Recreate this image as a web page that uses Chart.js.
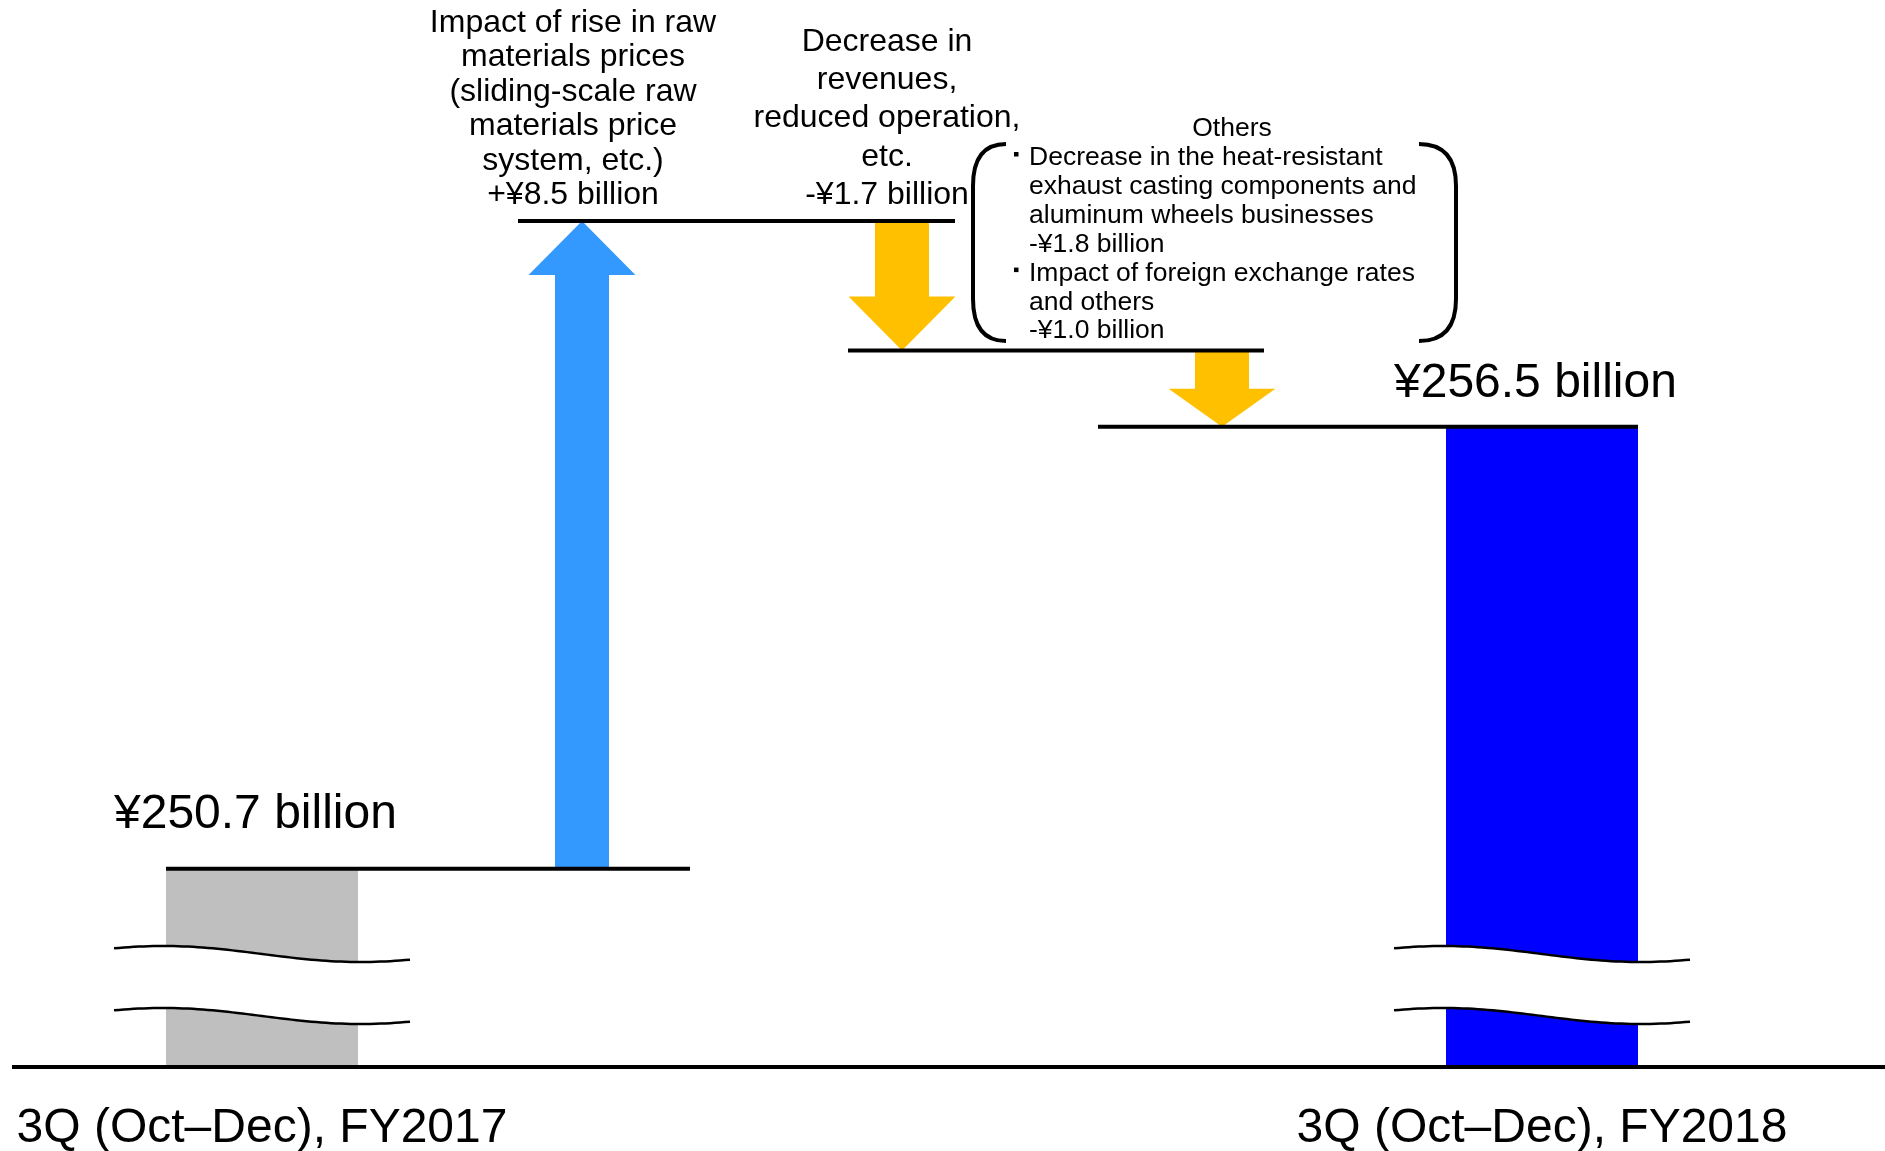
<!DOCTYPE html>
<html>
<head>
<meta charset="utf-8">
<script src="https://cdn.jsdelivr.net/npm/chart.js@4"></script>
<style>
  html, body { margin: 0; padding: 0; background: #ffffff; }
  canvas { display: block; }
</style>
</head>
<body>
<canvas id="chart" width="1885" height="1151"></canvas>
<script>
// ---------------- DATA ----------------
const categories = [
  "3Q (Oct–Dec), FY2017",
  "Impact of rise in raw materials prices",
  "Decrease in revenues, reduced operation, etc.",
  "Others",
  "3Q (Oct–Dec), FY2018"
];
const totals = [250.7, null, null, null, 256.5];          // ¥ billion
const changes = [null, 8.5, -1.7, -1.0, null];            // ¥ billion (net per step)
const totalLabels = ["¥250.7 billion", null, null, null, "¥256.5 billion"];
const changeNotes = [
  null,
  ["Impact of rise in raw", "materials prices", "(sliding-scale raw", "materials price", "system, etc.)", "+¥8.5 billion"],
  ["Decrease in", "revenues,", "reduced operation,", "etc.", "-¥1.7 billion"],
  null,
  null
];
const othersTitle = "Others";
const othersItems = [
  ["Decrease in the heat-resistant", "exhaust casting components and", "aluminum wheels businesses", "-¥1.8 billion"],
  ["Impact of foreign exchange rates", "and others", "-¥1.0 billion"]
];
const axisFloor = 248.1;   // broken value axis: bottom of visible range
const axisCeil = 262.1;

// floating ranges of the step arrows, built from the totals and changes
const steps = [];
let running = null;
categories.forEach((c, i) => {
  if (totals[i] != null) { running = totals[i]; steps.push(null); }
  else { const s = running; running = Math.round((running + changes[i]) * 10) / 10; steps.push([s, running]); }
});

// ---------------- STYLE ----------------
const FONT = '"Liberation Sans", Arial, Helvetica, sans-serif';
const totalColors = ["#BFBFBF", null, null, null, "#0000FF"];
const stepColors = [null, "#3399FF", "#FFC000", "#FFC000", null];
const connectorLeft = { 1: 64, 2: 54, 3: 124 };
const connectorRight = { 1: 108, 2: 53, 3: 42 };
const noteStyle = {
  1: { dx: -9, y0: 32, step: 34.4, size: 32 },
  2: { dx: -15, y0: 51, step: 38.2, size: 32 }
};
const totalLabelLift = [41, null, null, null, 30];

function drawArrow(ctx, x, width, base, tip, color) {
  const sw = width / 2, hw = width * 0.99;
  const dir = tip < base ? -1 : 1;
  const hl = Math.min(54, Math.abs(base - tip) * 0.5);
  const hb = tip - dir * hl;
  ctx.beginPath();
  ctx.moveTo(x - sw, base);
  ctx.lineTo(x - sw, hb);
  ctx.lineTo(x - hw, hb);
  ctx.lineTo(x, tip);
  ctx.lineTo(x + hw, hb);
  ctx.lineTo(x + sw, hb);
  ctx.lineTo(x + sw, base);
  ctx.closePath();
  ctx.fillStyle = color;
  ctx.fill();
}

function wavePoints(left, width, yc) {
  const pts = [];
  for (let k = 0; k <= 60; k++) {
    const t = k / 60;
    pts.push([left + t * width, yc + 8 * Math.sin(1.5 * Math.PI * (t - 0.5))]);
  }
  return pts;
}

function drawBreak(ctx, el, basePx) {
  const ext = 52;
  const left = el.x - el.width / 2 - ext;
  const width = el.width + 2 * ext;
  const w1 = wavePoints(left, width, basePx - 113);
  const w2 = wavePoints(left, width, basePx - 51);
  ctx.beginPath();
  w1.forEach((p, k) => k ? ctx.lineTo(p[0], p[1]) : ctx.moveTo(p[0], p[1]));
  for (let k = w2.length - 1; k >= 0; k--) ctx.lineTo(w2[k][0], w2[k][1]);
  ctx.closePath();
  ctx.fillStyle = "#ffffff";
  ctx.fill();
  ctx.strokeStyle = "#000000";
  ctx.lineWidth = 2.5;
  [w1, w2].forEach(w => {
    ctx.beginPath();
    w.forEach((p, k) => k ? ctx.lineTo(p[0], p[1]) : ctx.moveTo(p[0], p[1]));
    ctx.stroke();
  });
}

function drawBracket(ctx, outerX, endX, top, bottom) {
  ctx.beginPath();
  ctx.moveTo(endX, top);
  ctx.quadraticCurveTo(outerX, top, outerX, top + 42);
  ctx.lineTo(outerX, bottom - 42);
  ctx.quadraticCurveTo(outerX, bottom, endX, bottom);
  ctx.stroke();
}

const waterfallDecor = {
  id: "waterfallDecor",
  afterDatasetsDraw(chart) {
    const ctx = chart.ctx;
    const yScale = chart.scales.y;
    const bars = chart.getDatasetMeta(0).data;
    const arrows = chart.getDatasetMeta(1).data;
    const basePx = yScale.getPixelForValue(axisFloor);
    ctx.save();

    // axis-break marks on the total bars
    categories.forEach((c, i) => { if (totals[i] != null) drawBreak(ctx, bars[i], basePx); });

    // step arrows (direction from the step's start -> end value)
    categories.forEach((c, i) => {
      if (!steps[i]) return;
      const el = arrows[i];
      drawArrow(ctx, el.x, el.width,
        yScale.getPixelForValue(steps[i][0]),
        yScale.getPixelForValue(steps[i][1]),
        stepColors[i]);
    });

    // connector (level) lines
    ctx.strokeStyle = "#000000";
    ctx.lineWidth = 4;
    for (let i = 0; i < categories.length - 1; i++) {
      const lvl = totals[i] != null ? totals[i] : steps[i][1];
      const py = yScale.getPixelForValue(lvl);
      const x1 = totals[i] != null ? bars[i].x - bars[i].width / 2 : arrows[i].x - connectorLeft[i];
      const x2 = totals[i + 1] != null ? bars[i + 1].x + bars[i + 1].width / 2 : arrows[i + 1].x + connectorRight[i + 1];
      ctx.beginPath();
      ctx.moveTo(x1, py);
      ctx.lineTo(x2, py);
      ctx.stroke();
    }

    // base line
    ctx.beginPath();
    ctx.moveTo(12, basePx);
    ctx.lineTo(chart.width, basePx);
    ctx.stroke();

    ctx.fillStyle = "#000000";
    // total value labels and category labels
    categories.forEach((c, i) => {
      if (totals[i] == null) return;
      const el = bars[i];
      ctx.font = "48px " + FONT;
      ctx.textAlign = "left";
      ctx.textBaseline = "alphabetic";
      ctx.fillText(totalLabels[i], el.x - el.width / 2 - 52, el.y - totalLabelLift[i]);
      ctx.textAlign = "center";
      ctx.fillText(c, el.x, 1142);
    });

    // step notes
    categories.forEach((c, i) => {
      if (!changeNotes[i]) return;
      const st = noteStyle[i];
      const el = arrows[i];
      ctx.font = st.size + "px " + FONT;
      ctx.textAlign = "center";
      ctx.textBaseline = "alphabetic";
      changeNotes[i].forEach((line, k) => ctx.fillText(line, el.x + st.dx, st.y0 + k * st.step));
    });

    // "Others" bracketed note
    const oi = categories.indexOf("Others");
    const ax = arrows[oi].x;
    ctx.font = "26.5px " + FONT;
    ctx.textAlign = "center";
    ctx.fillText(othersTitle, ax + 10, 136);
    ctx.textAlign = "left";
    let row = 0;
    othersItems.forEach(item => {
      const by = 165 + row * 28.9;
      ctx.fillRect(ax - 208, by - 13, 4.5, 4.5);
      item.forEach(line => { ctx.fillText(line, ax - 193, 165 + row * 28.9); row++; });
    });
    ctx.lineWidth = 4;
    drawBracket(ctx, ax - 249, ax - 216, 144, 341);
    drawBracket(ctx, ax + 234, ax + 197, 144, 341);

    ctx.restore();
  }
};

new Chart(document.getElementById("chart"), {
  type: "bar",
  data: {
    labels: categories,
    datasets: [
      {
        label: "Total",
        data: totals,
        backgroundColor: totalColors,
        barPercentage: 0.6,
        categoryPercentage: 1,
        grouped: false
      },
      {
        label: "Change",
        data: steps,
        backgroundColor: "rgba(0,0,0,0)",
        barPercentage: 0.16875,
        categoryPercentage: 1,
        grouped: false
      }
    ]
  },
  options: {
    responsive: false,
    animation: false,
    devicePixelRatio: 1,
    layout: { padding: { left: 102, right: 183, top: 0, bottom: 84 } },
    scales: {
      x: { display: false },
      y: { display: false, min: axisFloor, max: axisCeil }
    },
    plugins: { legend: { display: false }, tooltip: { enabled: false } }
  },
  plugins: [waterfallDecor]
});
</script>
</body>
</html>
